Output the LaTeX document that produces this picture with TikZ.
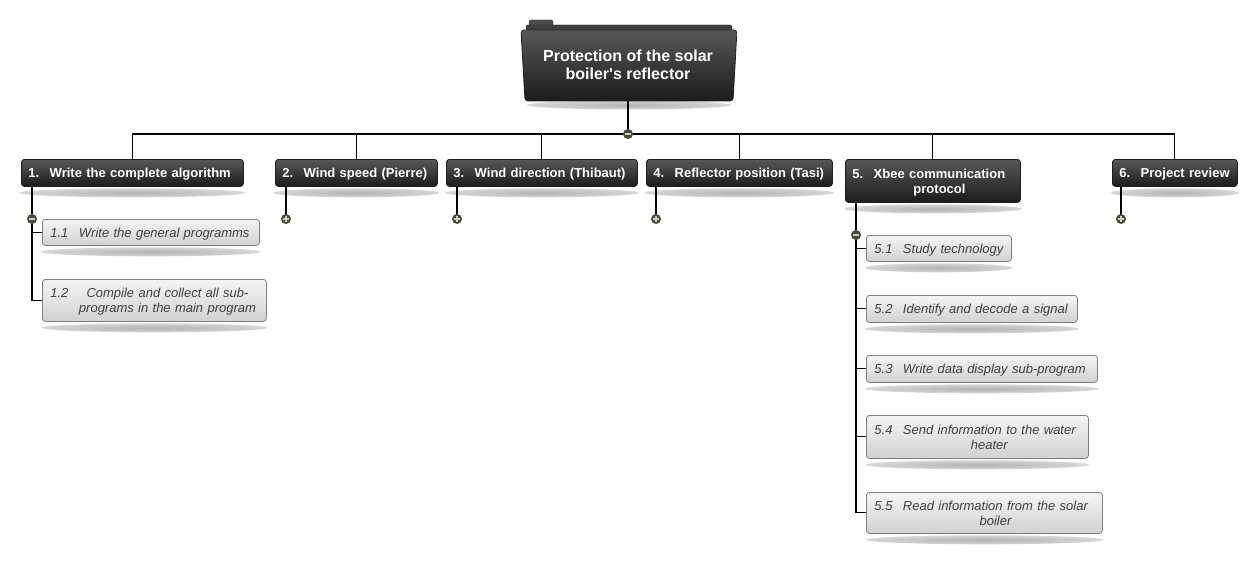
\documentclass[tikz,border=0pt]{standalone}
\usepackage{fontspec}
\setmainfont{Liberation Sans}
\usetikzlibrary{backgrounds}
\definecolor{knobc}{HTML}{474A3E}
\definecolor{signc}{HTML}{CDD1A8}
\definecolor{darktop}{HTML}{575757}
\definecolor{darkbot}{HTML}{1C1C1C}
\pgfdeclareradialshading{dropshad}{\pgfpoint{0bp}{0bp}}{color(0bp)=(black!30); color(20bp)=(black!19); color(50bp)=(white)}
\newcommand{\lbl}[2]{\raisebox{-1.6pt}[\height][\depth]{\mbox{#1\hspace{10.5pt}\begin{tabular}[t]{@{}c@{}}#2\end{tabular}}}}
\tikzset{
  conn/.style={draw=black, line width=1.05pt},
  lone/.style={anchor=north west, rectangle, rounded corners=3pt, top color=darktop, bottom color=darkbot,
    draw=black!88, line width=0.8pt, text=white, font=\fontsize{13}{15}\selectfont\bfseries,
    inner xsep=7pt, inner ysep=0pt, align=left},
  ltwo/.style={anchor=north west, rectangle, rounded corners=3pt, top color=black!4, bottom color=black!18,
    draw=black!50, line width=0.8pt, text=black!75, font=\fontsize{13}{15}\selectfont\itshape,
    inner xsep=8pt, inner ysep=0pt, align=left},
  roottext/.style={text=white, font=\fontsize{16}{18}\selectfont\bfseries, align=center,
    minimum width=210pt, minimum height=71pt, inner sep=0pt},
  knob/.style={circle, minimum size=10pt, inner sep=0pt, fill=knobc},
  minusk/.style={knob, path picture={\draw[signc, line width=1.4pt]
      ([xshift=-2.6pt]path picture bounding box.center) -- ([xshift=2.6pt]path picture bounding box.center);}},
  plusk/.style={knob, path picture={\draw[signc, line width=1.3pt]
      ([xshift=-2.6pt]path picture bounding box.center) -- ([xshift=2.6pt]path picture bounding box.center)
      ([yshift=-2.6pt]path picture bounding box.center) -- ([yshift=2.6pt]path picture bounding box.center);}},
}
\begin{document}
\begin{tikzpicture}[x=1pt, y=-1pt]
\useasboundingbox (0,0) rectangle (1255,567);

% root folder shape
\fill[darktop!90!black, draw=black!85, rounded corners=2pt] (529,20) rectangle (553,30);
\fill[black!75, draw=black!88, rounded corners=2pt] (526,25) rectangle (732,34);
\shade[top color=darktop, bottom color=darkbot, draw=black!88, line width=0.8pt, rounded corners=3pt]
  (521,30) -- (737,30) -- (733,101) -- (525,101) -- cycle;
\node[roottext] (root) at (628,65) {Protection of the solar\\boiler\textquotesingle s reflector};

% level 1
\node[lone, text width=208pt, minimum height=27pt] (n1) at (21,159) {\lbl{1.}{Write the complete algorithm}};
\node[lone, text width=148pt, minimum height=27pt] (n2) at (275,159) {\lbl{2.}{Wind speed (Pierre)}};
\node[lone, text width=177pt, minimum height=27pt] (n3) at (446,159) {\lbl{3.}{Wind direction (Thibaut)}};
\node[lone, text width=172pt, minimum height=27pt] (n4) at (646,159) {\lbl{4.}{Reflector position (Tasi)}};
\node[lone, text width=161pt, minimum height=43pt] (n5) at (845,159) {\lbl{5.}{Xbee communication\\protocol}};
\node[lone, text width=111pt, minimum height=27pt] (n6) at (1112,159) {\lbl{6.}{Project review}};

% level 2
\node[ltwo, text width=201pt, minimum height=26pt] (s11) at (42,219) {\lbl{1.1}{Write the general programms}};
\node[ltwo, text width=208pt, minimum height=42pt] (s12) at (42,279) {\lbl{1.2}{Compile and collect all sub-\\programs in the main program}};
\node[ltwo, text width=129pt, minimum height=26pt] (s51) at (866,235) {\lbl{5.1}{Study technology}};
\node[ltwo, text width=195pt, minimum height=27pt] (s52) at (866,295) {\lbl{5.2}{Identify and decode a signal}};
\node[ltwo, text width=215pt, minimum height=27pt] (s53) at (866,355) {\lbl{5.3}{Write data display sub-program}};
\node[ltwo, text width=206pt, minimum height=43pt] (s54) at (866,415) {\lbl{5.4}{Send information to the water\\heater}};
\node[ltwo, text width=220pt, minimum height=41pt] (s55) at (866,492) {\lbl{5.5}{Read information from the solar\\boiler}};

% background: white and shadows
\begin{scope}[on background layer]
  \fill[white] (0,0) rectangle (1255,567);
  \shade[shading=dropshad] (629,105) ellipse [x radius=102pt, y radius=4.5pt];
  \foreach \n/\r in {n1/113, n2/83, n3/97, n4/95, n5/89, n6/64,
                     s11/110, s12/113, s51/74, s52/107, s53/117, s54/112, s55/119}
    \shade[shading=dropshad] ([yshift=-6pt]\n.south) ellipse [x radius=\r pt, y radius=4.5pt];
\end{scope}

% knob positions and connectors
\coordinate (kr) at (628,134);
\coordinate (k1) at (32,219);
\coordinate (k2) at (286,219);
\coordinate (k3) at (457,219);
\coordinate (k4) at (656,219);
\coordinate (k5) at (856,235);
\coordinate (k6) at (1121,219);

\draw[conn] (root.south -| kr) -- (kr);
\draw[conn] (n1.north) |- (n6.north |- kr) -- (n6.north);
\foreach \n in {n2,n3,n4,n5} \draw[conn] (\n.north |- kr) -- (\n.north);

\draw[conn] (n1.south -| k1) |- (s12.west);
\draw[conn] (k1 |- s11.west) -- (s11.west);
\draw[conn] (n2.south -| k2) -- (k2);
\draw[conn] (n3.south -| k3) -- (k3);
\draw[conn] (n4.south -| k4) -- (k4);
\draw[conn] (n6.south -| k6) -- (k6);
\draw[conn] (n5.south -| k5) |- (s55.west);
\foreach \s in {s51,s52,s53,s54} \draw[conn] (k5 |- \s.west) -- (\s.west);

\node[minusk] (mr) at (kr) {};
\node[minusk] (m1) at (k1) {};
\node[plusk] (p2) at (k2) {};
\node[plusk] (p3) at (k3) {};
\node[plusk] (p4) at (k4) {};
\node[minusk] (m5) at (k5) {};
\node[plusk] (p6) at (k6) {};
\end{tikzpicture}
\end{document}
